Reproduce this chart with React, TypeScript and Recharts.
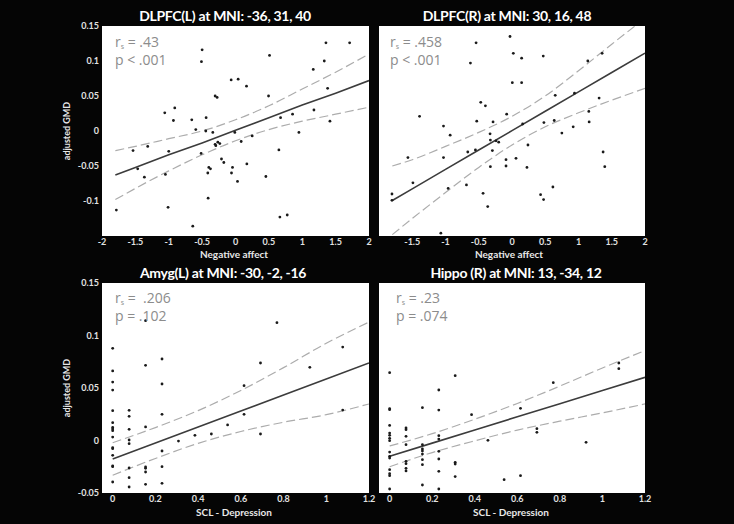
import { ComposedChart, Scatter, Line, XAxis, YAxis, CartesianGrid } from 'recharts';

// scatter points [x, y]
const dlpfcLPoints: [number, number][] = [
  [-1.785, -0.113], [-1.535, -0.028], [-1.465, -0.054], [-1.365, -0.066], [-1.315, -0.022],
  [-1.06, 0.026], [-1.05, -0.062], [-1.01, -0.109], [-1.0, -0.029], [-0.93, 0.015],
  [-0.91, 0.033], [-0.655, 0.016], [-0.64, -0.136], [-0.595, 0.002], [-0.515, -0.032],
  [-0.51, 0.099], [-0.5, 0.116], [-0.445, 0.0], [-0.44, 0.019], [-0.415, -0.06],
  [-0.41, -0.096], [-0.4, -0.052], [-0.375, -0.054], [-0.34, -0.002], [-0.305, 0.05],
  [-0.305, -0.019], [-0.295, -0.021], [-0.275, 0.048], [-0.265, -0.016], [-0.235, -0.018],
  [-0.21, -0.04], [-0.175, -0.045], [-0.065, 0.073], [-0.06, -0.06], [-0.045, -0.052],
  [-0.01, -0.002], [0.03, -0.072], [0.04, 0.074], [0.085, -0.015], [0.165, 0.064],
  [0.17, -0.047], [0.25, -0.007], [0.455, -0.065], [0.495, 0.05], [0.51, 0.108],
  [0.65, -0.027], [0.665, -0.123], [0.675, 0.019], [0.775, -0.12], [0.855, 0.024],
  [0.95, -0.002], [1.165, 0.088], [1.175, 0.03], [1.33, 0.1], [1.355, 0.126],
  [1.38, 0.061], [1.415, 0.014], [1.71, 0.126],
];

const dlpfcRPoints: [number, number][] = [
  [-1.805, -0.09], [-1.805, -0.099], [-1.565, -0.038], [-1.49, -0.074], [-1.39, 0.021],
  [-1.07, -0.146], [-1.03, 0.007], [-1.03, -0.038], [-0.96, -0.082], [-0.93, -0.006],
  [-0.685, -0.077], [-0.665, -0.03], [-0.625, 0.097], [-0.55, -0.027], [-0.54, 0.126],
  [-0.53, 0.014], [-0.47, 0.041], [-0.435, -0.089], [-0.4, 0.036], [-0.365, -0.108],
  [-0.33, -0.004], [-0.325, -0.013], [-0.325, -0.051], [-0.295, -0.028], [-0.285, 0.013],
  [-0.24, -0.014], [-0.2, -0.016], [-0.09, -0.041], [-0.09, -0.05], [-0.08, 0.024],
  [-0.03, 0.135], [0.005, 0.069], [0.02, 0.111], [0.06, -0.039], [0.145, 0.104],
  [0.145, 0.069], [0.16, 0.01], [0.225, -0.052], [0.24, -0.02], [0.43, -0.091],
  [0.47, 0.107], [0.475, -0.098], [0.48, 0.012], [0.615, -0.08], [0.635, 0.015],
  [0.65, 0.051], [0.75, -0.003], [0.92, 0.006], [0.94, 0.054], [1.14, 0.1],
  [1.155, 0.028], [1.16, 0.013], [1.31, 0.047], [1.355, 0.111], [1.37, -0.03],
  [1.395, -0.051],
];

const amygPoints: [number, number][] = [
  [0, 0.0878], [0, 0.0663], [0, 0.0556], [0, 0.048], [0, 0.0284], [0, 0.017], [0, 0.0125],
  [0, 0.011], [0, 0.0094], [0, 0.0033], [0, -0.0068], [0, -0.0078], [0, -0.0141],
  [0, -0.0243], [0, -0.0249], [0, -0.0395],
  [0.077, 0.0287], [0.077, 0.023], [0.077, 0.0106], [0.077, 0.0005], [0.077, -0.003],
  [0.077, -0.0262], [0.077, -0.0354], [0.077, -0.0443],
  [0.154, 0.1141], [0.154, 0.0716], [0.154, 0.0129], [0.154, -0.0252], [0.154, -0.0265],
  [0.154, -0.03], [0.154, -0.0417],
  [0.231, 0.0776], [0.231, 0.0538], [0.231, 0.0249], [0.231, -0.01], [0.231, -0.0249],
  [0.231, -0.0408],
  [0.308, -0.0005], [0.385, 0.0049], [0.462, 0.0062], [0.538, 0.0148], [0.615, 0.0522],
  [0.615, 0.0249], [0.692, 0.0738], [0.692, 0.0062], [0.769, 0.1122], [0.923, 0.0697],
  [1.077, 0.089], [1.077, 0.029],
];

const hippoPoints: [number, number][] = [
  [0, 0.0646], [0, 0.0303], [0, 0.0294], [0, 0.0144], [0, 0.0071], [0, 0.0049], [0, 0.0021],
  [0, -0.0002], [0, -0.011], [0, -0.0151], [0, -0.0167], [0, -0.0278], [0, -0.0316],
  [0, -0.0335], [0, -0.0462],
  [0.077, 0.0119], [0.077, 0.0103], [0.077, 0.004], [0.077, -0.004], [0.077, -0.0198],
  [0.077, -0.0221], [0.077, -0.0265], [0.077, -0.029],
  [0.154, 0.0313], [0.154, -0.004], [0.154, -0.0081], [0.154, -0.01], [0.154, -0.0129],
  [0.154, -0.0183], [0.154, -0.023], [0.154, -0.0424],
  [0.231, 0.0481], [0.231, 0.029], [0.231, 0.0046], [0.231, 0.0014], [0.231, -0.0103],
  [0.231, -0.0176], [0.231, -0.0294], [0.231, -0.0462],
  [0.308, 0.0617], [0.308, -0.0208], [0.308, -0.0224], [0.308, -0.0344],
  [0.385, 0.0246], [0.462, 0.0002], [0.538, -0.0373], [0.615, 0.0306], [0.615, -0.0335],
  [0.692, 0.0113], [0.692, 0.0078], [0.769, 0.0551], [0.923, -0.0017], [1.077, 0.0738],
  [1.077, 0.0684],
];

// fit lines and confidence bands
const affectBandX = [-1.8, -1.5, -1, -0.5, 0, 0.5, 1, 1.5, 2];
const dlpfcLFit = [-0.063, -0.052, -0.034, -0.017, 0.001, 0.019, 0.037, 0.054, 0.072];
const dlpfcLUpper = [-0.028, -0.022, -0.011, 0.0, 0.016, 0.036, 0.06, 0.084, 0.11];
const dlpfcLLower = [-0.098, -0.082, -0.057, -0.034, -0.014, 0.002, 0.014, 0.024, 0.034];

const dlpfcRFit = [-0.0992, -0.0826, -0.0549, -0.0272, 0.0005, 0.0282, 0.0559, 0.0836, 0.1113];
const dlpfcRUpper = [-0.05, -0.041, -0.022, -0.002, 0.021, 0.05, 0.086, 0.124, 0.161];
const dlpfcRLower = [-0.148, -0.125, -0.088, -0.052, -0.02, 0.006, 0.026, 0.044, 0.061];

const sclBandX = [0, 0.2, 0.4, 0.6, 0.8, 1.0, 1.2];
const amygFit = [-0.0176, -0.0024, 0.0129, 0.0281, 0.0434, 0.0586, 0.0738];
const amygUpper = [-0.0021, 0.0123, 0.0285, 0.0476, 0.0694, 0.0926, 0.1128];
const amygLower = [-0.0331, -0.0171, -0.0027, 0.0086, 0.0174, 0.0246, 0.0348];

const hippoFit = [-0.0151, -0.0025, 0.01, 0.0226, 0.0351, 0.0477, 0.0602];
const hippoUpper = [-0.0052, 0.0065, 0.0203, 0.0353, 0.0518, 0.0691, 0.0856];
const hippoLower = [-0.025, -0.0115, -0.0003, 0.0099, 0.0184, 0.0263, 0.0348];

// axis ticks
const affectTicks = [-2, -1.5, -1, -0.5, 0, 0.5, 1, 1.5, 2];
const affectTicksRight = [-1.5, -1, -0.5, 0, 0.5, 1, 1.5, 2];
const sclTicks = [0, 0.2, 0.4, 0.6, 0.8, 1, 1.2];
const gmdTicksTop = [-0.1, -0.05, 0, 0.05, 0.1, 0.15];
const gmdTicksBottom = [-0.05, 0, 0.05, 0.1, 0.15];

const FONT = 'Lato, "Open Sans", sans-serif';
const tickStyle = { fill: '#e2e2e2', fontSize: 9, fontWeight: 700, fontFamily: FONT };

interface PanelProps {
  left: number;
  top: number;
  w: number;
  h: number;
  points: [number, number][];
  bandX: number[];
  fit: number[];
  upper: number[];
  lower: number[];
  xDomain: [number, number];
  xTicks: number[];
  yDomain: [number, number];
  yTicks: number[];
  showY: boolean;
}

const Dot = (props: any) => <circle cx={props.cx} cy={props.cy} r={1.4} fill="#1a1a1a" />;

function Panel(p: PanelProps) {
  const pts = p.points.map(([x, y]) => ({ x, y }));
  const band = p.bandX.map((x, i) => ({ x, fit: p.fit[i], upper: p.upper[i], lower: p.lower[i] }));
  const yW = 40;
  return (
    <div style={{ position: 'absolute', left: p.left - yW, top: p.top - 10 }}>
      <ComposedChart
        width={yW + p.w + 10}
        height={10 + p.h + 30}
        margin={{ top: 10, right: 10, bottom: 0, left: p.showY ? 0 : yW }}
      >
        <CartesianGrid fill="#ffffff" stroke="none" horizontal={false} vertical={false} />
        <XAxis
          type="number"
          dataKey="x"
          domain={p.xDomain}
          ticks={p.xTicks}
          interval={0}
          allowDataOverflow
          axisLine={false}
          tickLine={false}
          tickSize={0}
          tickMargin={3}
          height={30}
          tick={tickStyle}
        />
        <YAxis
          type="number"
          domain={p.yDomain}
          ticks={p.yTicks}
          interval={0}
          allowDataOverflow
          hide={!p.showY}
          width={yW}
          axisLine={false}
          tickLine={false}
          tickSize={0}
          tickMargin={3}
          tick={tickStyle}
        />
        <Line data={band} dataKey="upper" type="monotone" stroke="#acacac" strokeWidth={1.2} strokeDasharray="9 4" dot={false} isAnimationActive={false} />
        <Line data={band} dataKey="lower" type="monotone" stroke="#acacac" strokeWidth={1.2} strokeDasharray="9 4" dot={false} isAnimationActive={false} />
        <Line data={band} dataKey="fit" type="linear" stroke="#3c3c3c" strokeWidth={1.6} dot={false} isAnimationActive={false} />
        <Scatter data={pts} dataKey="y" shape={Dot} isAnimationActive={false} />
      </ComposedChart>
    </div>
  );
}

function Title({ cx, cy, text }: { cx: number; cy: number; text: string }) {
  return (
    <div style={{
      position: 'absolute', left: cx - 150, width: 300, top: cy - 9, lineHeight: '18px',
      textAlign: 'center', color: '#fff', fontFamily: FONT, fontWeight: 700, fontSize: 14,
      letterSpacing: -0.3, whiteSpace: 'nowrap',
    }}>{text}</div>
  );
}

function AxisText({ cx, cy, text, rotate = false, size = 10 }: { cx: number; cy: number; text: string; rotate?: boolean; size?: number }) {
  return (
    <div style={{
      position: 'absolute', left: cx, top: cy, transform: `translate(-50%, -50%)${rotate ? ' rotate(-90deg)' : ''}`,
      color: '#e8e8e8', fontFamily: FONT, fontWeight: 700, fontSize: size, whiteSpace: 'nowrap', lineHeight: '12px',
    }}>{text}</div>
  );
}

function Stats({ x, y, r, pText }: { x: number; y: number; r: string; pText: string }) {
  const line = { height: 18, lineHeight: '18px', overflow: 'visible' as const };
  return (
    <div style={{
      position: 'absolute', left: x, top: y, color: '#8c8c8c', fontFamily: '"Open Sans", sans-serif',
      fontSize: 14, whiteSpace: 'pre',
    }}>
      <div style={line}>r<span style={{ fontSize: 7, position: 'relative', top: 2, lineHeight: '8px' }}>s</span>{` = ${r}`}</div>
      <div style={line}>{pText}</div>
    </div>
  );
}

export default function App() {
  return (
    <div style={{ position: 'absolute', left: 0, top: 0, width: 734, height: 524, background: '#050505', overflow: 'hidden' }}>
      <Panel left={102} top={26} w={267} h={210} points={dlpfcLPoints} bandX={affectBandX}
        fit={dlpfcLFit} upper={dlpfcLUpper} lower={dlpfcLLower}
        xDomain={[-2, 2]} xTicks={affectTicks} yDomain={[-0.15, 0.15]} yTicks={gmdTicksTop} showY />
      <Panel left={379} top={26} w={266} h={210} points={dlpfcRPoints} bandX={affectBandX}
        fit={dlpfcRFit} upper={dlpfcRUpper} lower={dlpfcRLower}
        xDomain={[-2, 2]} xTicks={affectTicksRight} yDomain={[-0.15, 0.15]} yTicks={gmdTicksTop} showY={false} />
      <Panel left={102} top={283} w={267} h={210} points={amygPoints} bandX={sclBandX}
        fit={amygFit} upper={amygUpper} lower={amygLower}
        xDomain={[-0.05, 1.2]} xTicks={sclTicks} yDomain={[-0.05, 0.15]} yTicks={gmdTicksBottom} showY />
      <Panel left={379} top={283} w={266} h={210} points={hippoPoints} bandX={sclBandX}
        fit={hippoFit} upper={hippoUpper} lower={hippoLower}
        xDomain={[-0.05, 1.2]} xTicks={sclTicks} yDomain={[-0.05, 0.15]} yTicks={gmdTicksBottom} showY={false} />

      <Title cx={225} cy={16} text="DLPFC(L) at MNI: -36, 31, 40" />
      <Title cx={507} cy={16} text="DLPFC(R) at MNI: 30, 16, 48" />
      <Title cx={223} cy={273} text="Amyg(L) at MNI: -30, -2, -16" />
      <Title cx={516} cy={273} text="Hippo (R) at MNI: 13, -34, 12" />

      <AxisText cx={234} cy={254} text="Negative affect" />
      <AxisText cx={509} cy={254} text="Negative affect" />
      <AxisText cx={234} cy={512} text="SCL - Depression" />
      <AxisText cx={511} cy={512} text="SCL - Depression" />
      <AxisText cx={67} cy={131} text="adjusted GMD" rotate size={9} />
      <AxisText cx={67} cy={388} text="adjusted GMD" rotate size={9} />

      <Stats x={115} y={33} r=".43" pText="p < .001" />
      <Stats x={390} y={33} r=".458" pText="p < .001" />
      <Stats x={115} y={289} r=" .206" pText="p = .102" />
      <Stats x={396} y={289} r=".23" pText="p = .074" />
    </div>
  );
}
